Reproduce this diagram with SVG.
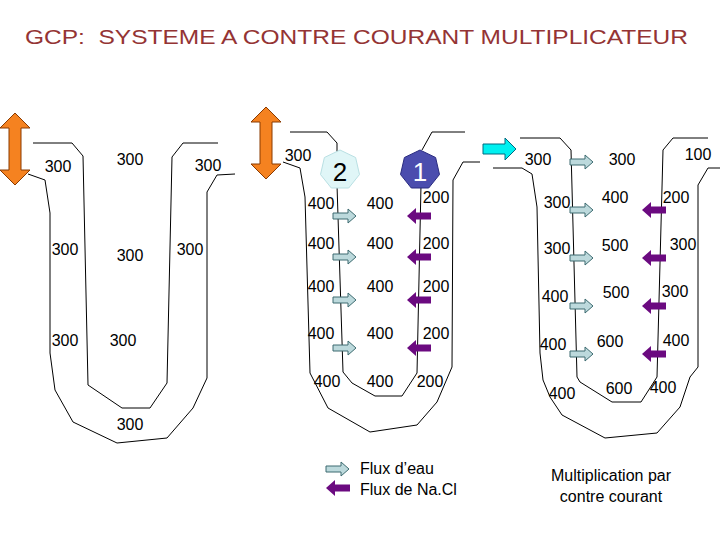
<svg xmlns="http://www.w3.org/2000/svg" width="720" height="540" viewBox="0 0 720 540">
<style>
text{font-family:"Liberation Sans",Arial,sans-serif;font-size:16px;fill:#000}
.t{fill:none;stroke:#000;stroke-width:1}
.w{fill:#bcd9dc;stroke:#3d6b70;stroke-width:1}
.p{fill:#6b0a80;stroke:none}
.o{fill:#f58220;stroke:#8a3a00;stroke-width:1}
</style>
<defs>
<path id="wa" class="w" d="M0,-3 H15 V-7 L23,0 L15,7 V3 H0 Z"/>
<path id="pa" class="p" d="M24,-3.5 H9 V-8 L0,0 L9,8 V3.5 H24 Z"/>
<path id="oa" class="o" d="M15,0 L30,15 H21 V57 H30 L15,72 L0,57 H9 V15 H0 Z"/>
</defs>
<rect width="720" height="540" fill="#fff"/>
<text x="25" y="44" xml:space="preserve" textLength="663" lengthAdjust="spacingAndGlyphs" style="font-size:21px;fill:#943434">GCP:  SYSTEME A CONTRE COURANT MULTIPLICATEUR</text>
<g id="connectors">
<polyline class="t" points="28,174 45,180 50,213 50,353 55,390 73,422 117,443 167,438 193,408 207,378 207,192 217,175 235,174"/>
<polyline class="t" points="33,143 72,143 83,156 88,385 122,408 150,408 167,383 172,157 183,143 218,143"/>
<polyline class="t" points="283,162 300,168 305,197 310,373 328,408 370,432 417,425 437,402 452,367 453,180 463,162 480,162"/>
<polyline class="t" points="290,132 327,132 337,143 337,185 343,372 352,383 375,396 402,396 417,373 421,185"/>
<polyline class="t" points="422,150 432,132 465,132"/>
<polyline class="t" points="493,168 522,168 532,174 537,207 540,353 543,380 550,397 562,415 605,438 657,433 680,407 690,377 698,367 698,185 708,168 720,168"/>
<polyline class="t" points="520,138 560,138 571,150 577,377 580,382 612,402 641,402 657,377 663,150 673,138 708,138"/>
</g>
<g id="orange1"><use href="#oa" x="0" y="113"/></g>
<g id="orange2"><use href="#oa" x="251" y="107"/></g>
<g id="inflow"><path d="M483,144 H505 V138 L516,149 L505,160 V154 H483 Z" fill="#00f0f0" stroke="#006a80"/></g>
<g id="hex2"><polygon points="340,150 355.6,157.5 359.5,174.5 348.7,188 331.3,188 320.5,174.5 324.4,157.5" fill="#e0f6f7" stroke="#b9e0e3"/><text x="340" y="181" text-anchor="middle" style="font-size:26px">2</text></g>
<g id="hex1"><polygon points="420,150 435.6,157.5 439.5,174.5 428.7,188 411.3,188 400.5,174.5 404.4,157.5" fill="#4b4dae" stroke="#2a2c80"/><text x="420" y="181" text-anchor="middle" style="font-size:26px;fill:#fff">1</text></g>
<g id="flux">
<use href="#wa" x="333" y="216"/><use href="#wa" x="333" y="257"/><use href="#wa" x="333" y="300"/><use href="#wa" x="333" y="348"/>
<use href="#pa" x="407" y="216"/><use href="#pa" x="407" y="257"/><use href="#pa" x="407" y="300"/><use href="#pa" x="407" y="348"/>
<use href="#wa" x="570" y="162"/><use href="#wa" x="570" y="210"/><use href="#wa" x="570" y="258"/><use href="#wa" x="570" y="306"/><use href="#wa" x="570" y="354"/>
<use href="#pa" x="642" y="210"/><use href="#pa" x="642" y="258"/><use href="#pa" x="642" y="306"/><use href="#pa" x="642" y="354"/>
</g>
<g id="values" text-anchor="middle">
<text x="58" y="172">300</text><text x="130" y="165">300</text><text x="208" y="171">300</text>
<text x="65" y="255">300</text><text x="130" y="261">300</text><text x="190" y="255">300</text>
<text x="65" y="346">300</text><text x="123" y="346">300</text><text x="130" y="430">300</text>
<text x="298" y="161">300</text>
<text x="321" y="209">400</text><text x="380" y="209">400</text><text x="436" y="203">200</text>
<text x="321" y="249">400</text><text x="380" y="249">400</text><text x="436" y="249">200</text>
<text x="321" y="292">400</text><text x="380" y="292">400</text><text x="436" y="292">200</text>
<text x="321" y="339">400</text><text x="380" y="339">400</text><text x="436" y="339">200</text>
<text x="327" y="387">400</text><text x="380" y="387">400</text><text x="430" y="387">200</text>
<text x="538" y="165">300</text><text x="622" y="165">300</text><text x="698" y="160">100</text>
<text x="557" y="208">300</text><text x="615" y="203">400</text><text x="676" y="203">200</text>
<text x="557" y="254">300</text><text x="615" y="251">500</text><text x="683" y="250">300</text>
<text x="555" y="302">400</text><text x="616" y="298">500</text><text x="675" y="297">300</text>
<text x="553" y="350">400</text><text x="610" y="347">600</text><text x="676" y="346">400</text>
<text x="562" y="399">400</text><text x="619" y="394">600</text><text x="663" y="393">400</text>
</g>
<g id="legend">
<use href="#wa" x="326" y="469"/><use href="#pa" x="326" y="488"/>
<text x="360" y="474">Flux d’eau</text><text x="360" y="495">Flux de Na.Cl</text>
<text x="611" y="481" text-anchor="middle">Multiplication par</text>
<text x="611" y="502" text-anchor="middle">contre courant</text>
</g>
</svg>
